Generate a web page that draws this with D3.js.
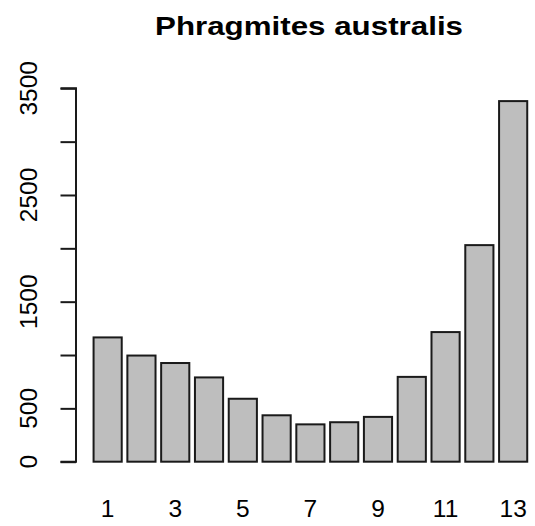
<!DOCTYPE html>
<html>
<head>
<meta charset="utf-8">
<script src="https://cdn.jsdelivr.net/npm/d3@7"></script>
<style>
  html, body { margin: 0; padding: 0; background: #fff; }
  svg { display: block; }
  text { font-family: "Liberation Sans", Arial, Helvetica, sans-serif; fill: #000; }
</style>
</head>
<body>
<svg id="chart" width="535" height="526"></svg>
<script>
const title = "Phragmites australis";
const categories = ["1","2","3","4","5","6","7","8","9","10","11","12","13"];
const values = [1165, 995, 925, 790, 590, 435, 350, 370, 420, 795, 1215, 2030, 3380];
const xTickLabels = ["1","3","5","7","9","11","13"];
const yTicks = [0, 500, 1000, 1500, 2000, 2500, 3000, 3500];
const yTickLabels = ["0", "500", "", "1500", "", "2500", "", "3500"];

const svg = d3.select("#chart");

// barplot geometry (width 1, space 0.2)
const barW = 1, space = 0.2;
const lefts = values.map((v, i) => space + i * (barW + space));
const x = d3.scaleLinear().domain([-0.424, 16.424]).range([76, 76 + 16.848 * 28.16]);
const y = d3.scaleLinear().domain([0, 3500]).range([461.7, 88.3]);

// bars
svg.append("g").selectAll("rect")
  .data(values)
  .join("rect")
  .attr("x", (d, i) => x(lefts[i]))
  .attr("width", (d, i) => x(lefts[i] + barW) - x(lefts[i]))
  .attr("y", d => y(d))
  .attr("height", d => y(0) - y(d))
  .attr("fill", "#bebebe")
  .attr("stroke", "#1a1a1a")
  .attr("stroke-width", 2);

// y axis
const yAxis = d3.axisLeft(y).tickValues(yTicks).tickSize(15.5).tickFormat("");
const gy = svg.append("g").attr("transform", "translate(76,0)").call(yAxis);
gy.select(".domain").attr("stroke", "#1a1a1a").attr("stroke-width", 2)
  .attr("d", `M-15.5,${y(3500)}H0V${y(0)}H-15.5`);
gy.selectAll(".tick line").attr("stroke", "#1a1a1a").attr("stroke-width", 2);

// y tick labels rotated
svg.append("g").selectAll("text")
  .data(yTicks.filter((t, i) => yTickLabels[i] !== ""))
  .join("text")
  .attr("transform", d => `translate(37,${y(d)}) rotate(-90)`)
  .attr("text-anchor", "middle")
  .attr("font-size", 24.5)
  .text(d => yTickLabels[yTicks.indexOf(d)]);

// x labels (odd ones)
svg.append("g").selectAll("text")
  .data(xTickLabels)
  .join("text")
  .attr("x", d => x(lefts[categories.indexOf(d)] + barW / 2))
  .attr("y", 516.5)
  .attr("text-anchor", "middle")
  .attr("font-size", 24.5)
  .text(d => d);

// title
svg.append("text")
  .attr("x", 309)
  .attr("y", 35)
  .attr("text-anchor", "middle")
  .attr("font-size", 26)
  .attr("font-weight", "bold")
  .attr("textLength", 308)
  .attr("lengthAdjust", "spacingAndGlyphs")
  .text(title);
</script>
</body>
</html>
